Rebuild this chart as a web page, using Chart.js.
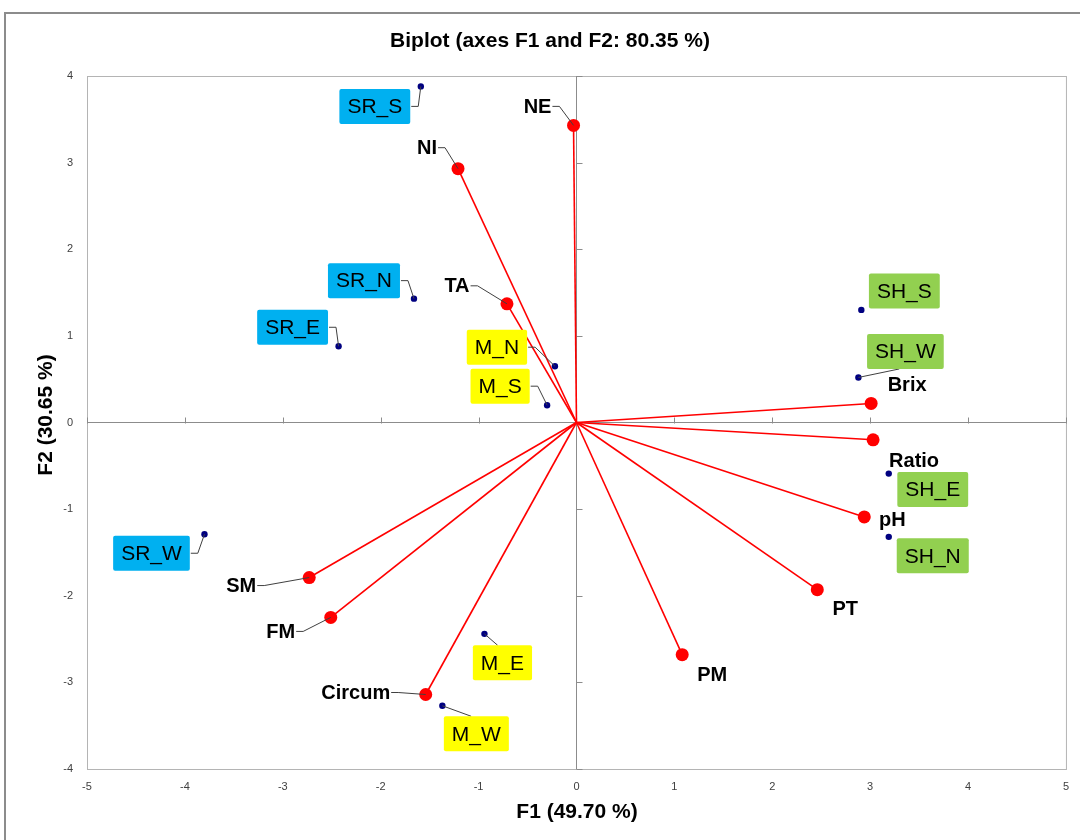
<!DOCTYPE html>
<html>
<head>
<meta charset="utf-8">
<title>Biplot (axes F1 and F2)</title>
<script src="https://cdn.jsdelivr.net/npm/chart.js@4.4.1/dist/chart.umd.min.js"></script>
<style>
  html, body { margin: 0; padding: 0; background: #fff; }
  canvas { display: block; }
</style>
</head>
<body>
<canvas id="biplot" width="1080" height="840"></canvas>
<script>
// variables (red vectors)
const varNames = ['NE', 'NI', 'TA', 'Brix', 'Ratio', 'pH', 'PT', 'PM', 'Circum', 'FM', 'SM'];
const varF1 = [-0.03, -1.21, -0.71, 3.01, 3.03, 2.94, 2.46, 1.08, -1.54, -2.51, -2.73];
const varF2 = [3.43, 2.93, 1.37, 0.22, -0.20, -1.09, -1.93, -2.68, -3.14, -2.25, -1.79];

// observations (blue dots)
const obsNames = ['SR_S', 'SR_N', 'SR_E', 'SR_W', 'M_N', 'M_S', 'M_E', 'M_W', 'SH_S', 'SH_W', 'SH_E', 'SH_N'];
const obsF1 = [-1.59, -1.66, -2.43, -3.80, -0.22, -0.30, -0.94, -1.37, 2.91, 2.88, 3.19, 3.19];
const obsF2 = [3.88, 1.43, 0.88, -1.29, 0.65, 0.20, -2.44, -3.27, 1.30, 0.52, -0.59, -1.32];

const f1Ticks = [-5, -4, -3, -2, -1, 0, 1, 2, 3, 4, 5];
const f2Ticks = [-4, -3, -2, -1, 0, 1, 2, 3, 4];

// label placement, pixel offset of label centre from its point
const labelOffset = {
  NE: [-36, -19], NI: [-31, -21], TA: [-50, -18], Brix: [36, -19], Ratio: [41, 21],
  pH: [28, 3], PT: [28, 19], PM: [30, 20], Circum: [-70, -2], FM: [-50, 14], SM: [-68, 8],
  SR_S: [-46, 20], SR_N: [-50, -18], SR_E: [-46, -19], SR_W: [-53, 19],
  M_N: [-58, -19], M_S: [-47, -19], M_E: [18, 29], M_W: [34, 28],
  SH_S: [43, -19], SH_W: [47, -26], SH_E: [44, 16], SH_N: [44, 19]
};
const withLeader = ['NE', 'NI', 'TA', 'Circum', 'FM', 'SM',
  'SR_S', 'SR_N', 'SR_E', 'SR_W', 'M_N', 'M_S', 'M_E', 'M_W', 'SH_W'];
const groupColor = { SR: '#00B0F0', M: '#FFFF00', SH: '#92D050' };

const FONT = '"Liberation Sans", Arial, sans-serif';

function drawLeader(ctx, px, py, box) {
  const { l, r, t, b } = box;
  const cy = (t + b) / 2;
  ctx.beginPath();
  if (px > r + 2) {
    ctx.moveTo(r + 1, cy); ctx.lineTo(r + 8, cy); ctx.lineTo(px, py);
  } else if (px < l - 2 && Math.abs(py - cy) <= (b - t) / 2) {
    ctx.moveTo(l - 1, cy); ctx.lineTo(l - 8, cy); ctx.lineTo(px, py);
  } else {
    const w = r - l;
    const ax = Math.min(Math.max(px, l + w * 0.42), r - w * 0.42);
    const ay = py < t ? t : b;
    ctx.moveTo(ax, ay); ctx.lineTo(px, py);
  }
  ctx.stroke();
}

const frame = {
  id: 'frame',
  beforeDraw(chart) {
    const ctx = chart.ctx;
    const a = chart.chartArea;
    ctx.save();
    ctx.fillStyle = '#fff';
    ctx.fillRect(0, 0, chart.width, chart.height);
    // outer chart border
    ctx.strokeStyle = '#8c8c8c';
    ctx.lineWidth = 2;
    ctx.strokeRect(5, 13, chart.width + 20, chart.height + 20);
    // plot area border
    ctx.strokeStyle = '#b4b4b4';
    ctx.lineWidth = 1;
    ctx.strokeRect(a.left + 0.5, a.top + 0.5, a.right - a.left, a.bottom - a.top);
    ctx.restore();
  },
  beforeDatasetsDraw(chart) {
    // tick marks on the axes that cross at the origin
    const ctx = chart.ctx;
    const xs = chart.scales.x, ys = chart.scales.y;
    const x0 = Math.round(xs.getPixelForValue(0)) + 0.5;
    const y0 = Math.round(ys.getPixelForValue(0)) + 0.5;
    ctx.save();
    ctx.strokeStyle = '#8c8c8c';
    ctx.lineWidth = 1;
    ctx.beginPath();
    f1Ticks.forEach(v => {
      const x = Math.round(xs.getPixelForValue(v)) + 0.5;
      ctx.moveTo(x, y0 - 6); ctx.lineTo(x, y0);
    });
    f2Ticks.forEach(v => {
      const y = Math.round(ys.getPixelForValue(v)) + 0.5;
      ctx.moveTo(x0, y); ctx.lineTo(x0 + 6, y);
    });
    ctx.stroke();
    ctx.restore();
  },
  afterDraw(chart) {
    const ctx = chart.ctx;
    ctx.save();
    ctx.fillStyle = '#000';
    ctx.textAlign = 'center';
    ctx.textBaseline = 'middle';
    ctx.font = 'bold 21px ' + FONT;
    ctx.fillText('Biplot (axes F1 and F2: 80.35 %)', 550, 41);
    ctx.fillText('F1 (49.70 %)', 577, 812);
    ctx.translate(46, 415);
    ctx.rotate(-Math.PI / 2);
    ctx.fillText('F2 (30.65 %)', 0, 0);
    ctx.restore();
  }
};

const labels = {
  id: 'labels',
  afterDatasetsDraw(chart) {
    const ctx = chart.ctx;
    const xs = chart.scales.x, ys = chart.scales.y;
    ctx.save();
    ctx.textAlign = 'center';
    ctx.textBaseline = 'middle';

    // variable names, bold black
    ctx.font = 'bold 20px ' + FONT;
    varNames.forEach((name, i) => {
      const px = xs.getPixelForValue(varF1[i]);
      const py = ys.getPixelForValue(varF2[i]);
      const [dx, dy] = labelOffset[name];
      const cx = px + dx, cy = py + dy;
      const w = ctx.measureText(name).width;
      if (withLeader.includes(name)) {
        ctx.strokeStyle = '#404040';
        ctx.lineWidth = 1;
        drawLeader(ctx, px, py, { l: cx - w / 2, r: cx + w / 2, t: cy - 10, b: cy + 10 });
      }
      ctx.fillStyle = '#000';
      ctx.fillText(name, cx, cy + 1);
    });

    // observation names in coloured boxes
    ctx.font = '21px ' + FONT;
    obsNames.forEach((name, i) => {
      const px = xs.getPixelForValue(obsF1[i]);
      const py = ys.getPixelForValue(obsF2[i]);
      const [dx, dy] = labelOffset[name];
      const cx = px + dx, cy = py + dy;
      const w = ctx.measureText(name).width + 16;
      const h = 35;
      const box = { l: cx - w / 2, r: cx + w / 2, t: cy - h / 2, b: cy + h / 2 };
      if (withLeader.includes(name)) {
        ctx.strokeStyle = '#404040';
        ctx.lineWidth = 1;
        drawLeader(ctx, px, py, box);
      }
      ctx.fillStyle = groupColor[name.split('_')[0]];
      ctx.beginPath();
      ctx.roundRect(box.l, box.t, w, h, 2);
      ctx.fill();
      ctx.fillStyle = '#000';
      ctx.fillText(name, cx, cy + 1);
    });
    ctx.restore();
  }
};

const vectorSets = varNames.map((name, i) => ({
  label: name,
  data: [{ x: 0, y: 0 }, { x: varF1[i], y: varF2[i] }],
  showLine: true,
  borderColor: '#FF0000',
  borderWidth: 1.6,
  pointRadius: c => (c.dataIndex === 0 ? 0 : 6.5),
  pointHoverRadius: c => (c.dataIndex === 0 ? 0 : 6.5),
  pointBackgroundColor: '#FF0000',
  pointBorderWidth: 0,
  order: 2
}));

const obsSet = {
  label: 'Observations',
  data: obsNames.map((n, i) => ({ x: obsF1[i], y: obsF2[i] })),
  pointRadius: 3.2,
  pointBackgroundColor: '#000080',
  pointBorderWidth: 0,
  order: 1
};

const zeroGrid = c => (c.tick && c.tick.value === 0 ? '#8c8c8c' : 'rgba(0,0,0,0)');

new Chart(document.getElementById('biplot').getContext('2d'), {
  type: 'scatter',
  data: { datasets: [...vectorSets, obsSet] },
  options: {
    responsive: false,
    animation: false,
    layout: { padding: { top: 76, right: 13, left: 0, bottom: 0 } },
    plugins: {
      legend: { display: false },
      title: { display: false },
      tooltip: { enabled: false }
    },
    scales: {
      x: {
        type: 'linear',
        min: -5, max: 5,
        afterBuildTicks: s => { s.ticks = f1Ticks.map(v => ({ value: v })); },
        afterFit: s => { s.height = 71; },
        grid: { color: zeroGrid, drawTicks: false, lineWidth: 1 },
        border: { display: false },
        ticks: { font: { size: 11, family: FONT }, color: '#404040', padding: 11, maxRotation: 0 }
      },
      y: {
        type: 'linear',
        min: -4, max: 4,
        afterBuildTicks: s => { s.ticks = f2Ticks.map(v => ({ value: v })); },
        afterFit: s => { s.width = 87; },
        grid: { color: zeroGrid, drawTicks: false, lineWidth: 1 },
        border: { display: false },
        ticks: { font: { size: 11, family: FONT }, color: '#404040', padding: 14 }
      }
    }
  },
  plugins: [frame, labels]
});
</script>
</body>
</html>
